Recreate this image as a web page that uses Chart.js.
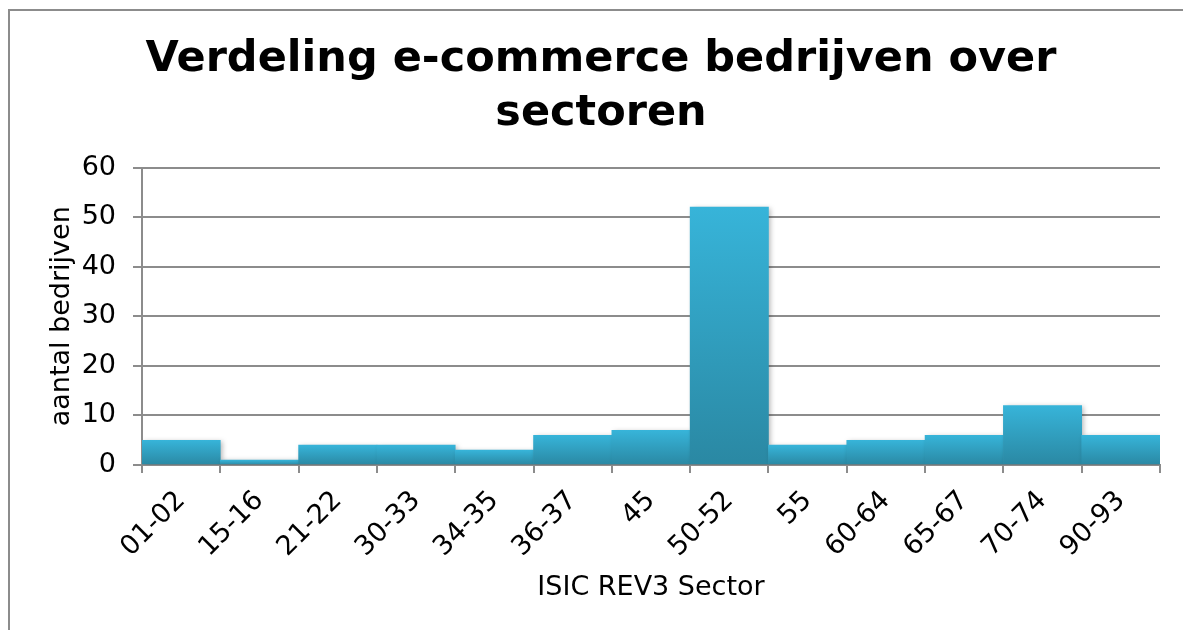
<!DOCTYPE html>
<html>
<head>
<meta charset="utf-8">
<script src="https://cdn.jsdelivr.net/npm/chart.js@4"></script>
<style>
  html, body { margin: 0; padding: 0; background: #fff; }
  #frame { position: absolute; left: 8px; top: 9px; width: 1300px; height: 700px;
           border-left: 2px solid #8c8c8c; border-top: 2px solid #8c8c8c; }
  #wrap { position: absolute; left: 0; top: 0; width: 1183px; height: 630px; }
</style>
</head>
<body>
<div id="frame"></div>
<div id="wrap"><canvas id="chart" width="1183" height="630"></canvas></div>
<script>
// sectors (ISIC rev3) and number of companies per sector
const sectors = ["01-02", "15-16", "21-22", "30-33", "34-35", "36-37", "45", "50-52", "55", "60-64", "65-67", "70-74", "90-93"];
const companies = [5, 1, 4, 4, 3, 6, 7, 52, 4, 5, 6, 12, 6];
const yTicks = [0, 10, 20, 30, 40, 50, 60];

const gridGray = "#8c8c8c";
const font = "'DejaVu Sans', Verdana, sans-serif";

// light-to-dark vertical fill per bar
function barFill(ctx) {
  const chart = ctx.chart;
  if (!chart.chartArea) return "#33aed3";
  const y = chart.scales.y;
  const top = y.getPixelForValue(ctx.raw);
  const bottom = y.getPixelForValue(0);
  const g = chart.ctx.createLinearGradient(0, top, 0, bottom);
  g.addColorStop(0, "#37b4d9");
  g.addColorStop(1, "#2a88a3");
  return g;
}

// soft drop shadow behind the bars
const barShadow = {
  id: "barShadow",
  beforeDatasetDraw(chart) {
    const c = chart.ctx;
    c.save();
    c.shadowColor = "rgba(0,0,0,0.28)";
    c.shadowBlur = 5;
    c.shadowOffsetX = 2;
    c.shadowOffsetY = 1;
  },
  afterDatasetDraw(chart) {
    chart.ctx.restore();
  }
};

new Chart(document.getElementById("chart"), {
  type: "bar",
  plugins: [barShadow],
  data: {
    labels: sectors,
    datasets: [{
      data: companies,
      backgroundColor: barFill,
      borderWidth: 0,
      barPercentage: 1,
      categoryPercentage: 1
    }]
  },
  options: {
    responsive: false,
    animation: false,
    layout: { padding: { left: 42, right: 23, top: 0, bottom: 22 } },
    plugins: {
      legend: { display: false },
      tooltip: { enabled: false },
      title: {
        display: true,
        text: ["Verdeling e-commerce bedrijven over", "sectoren"],
        color: "#000",
        font: { family: font, size: 43, weight: "bold", lineHeight: 1.25 },
        padding: { top: 33, bottom: 27 }
      }
    },
    scales: {
      x: {
        grid: { display: true, drawOnChartArea: false, color: gridGray, lineWidth: 2, tickLength: 8 },
        border: { color: gridGray, width: 2 },
        ticks: { color: "#000", font: { family: font, size: 27 }, minRotation: 45, maxRotation: 45, padding: 12 },
        title: { display: true, text: "ISIC REV3 Sector", color: "#000", font: { family: font, size: 27 } },
        afterFit(scale) { scale.height = 143; }
      },
      y: {
        min: 0,
        max: 60,
        afterBuildTicks(scale) { scale.ticks = yTicks.map(v => ({ value: v })); },
        grid: { color: gridGray, lineWidth: 2, tickLength: 9 },
        border: { color: gridGray, width: 2 },
        ticks: { color: "#000", font: { family: font, size: 27 }, padding: 17 },
        title: { display: true, text: "aantal bedrijven", color: "#000", font: { family: font, size: 27 } },
        afterFit(scale) { scale.width = 100; }
      }
    }
  }
});
</script>
</body>
</html>
